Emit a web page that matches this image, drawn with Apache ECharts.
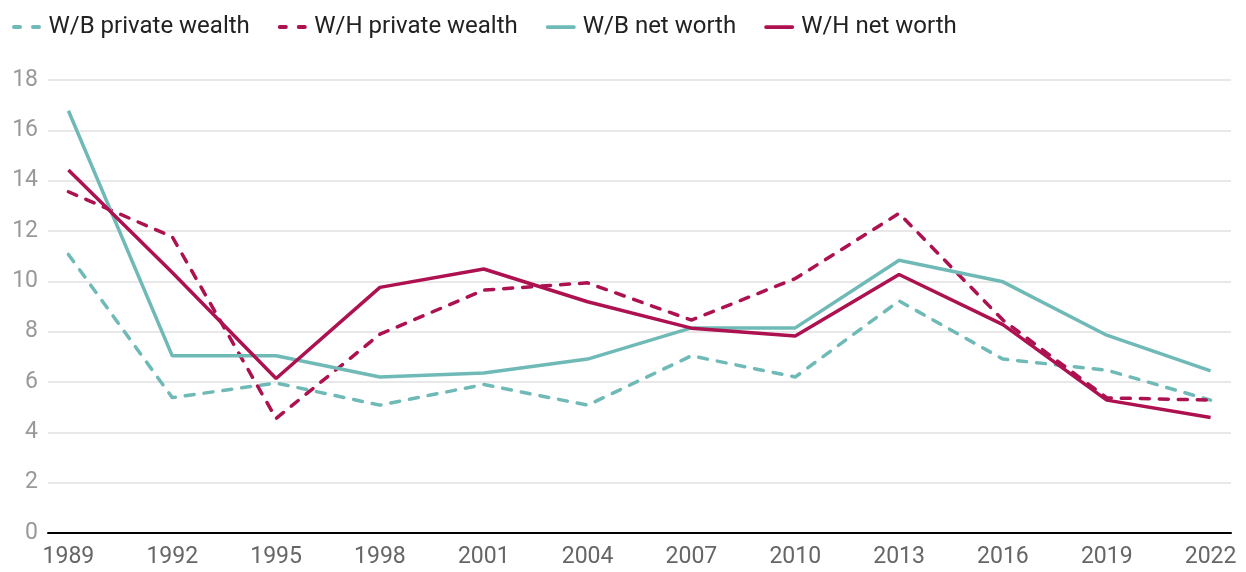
<!DOCTYPE html>
<html>
<head>
<meta charset="utf-8">
<script src="https://cdn.jsdelivr.net/npm/echarts@6/dist/echarts.min.js"></script>
<style>
  html, body { margin: 0; padding: 0; background: #fff; }
  #chart { width: 1246px; height: 572px; }
</style>
</head>
<body>
<div id="chart"></div>
<script>
// years on the x axis
const years = [1989, 1992, 1995, 1998, 2001, 2004, 2007, 2010, 2013, 2016, 2019, 2022]

// ratios
const wbPrivateWealth = [11.07, 5.38, 5.96, 5.08, 5.90, 5.08, 7.04, 6.20, 9.22, 6.91, 6.47, 5.28]
const whPrivateWealth = [13.56, 11.77, 4.55, 7.90, 9.65, 9.94, 8.46, 10.11, 12.70, 8.46, 5.37, 5.28]
const wbNetWorth = [16.78, 7.04, 7.04, 6.20, 6.36, 6.91, 8.15, 8.15, 10.84, 9.98, 7.86, 6.44]
const whNetWorth = [14.42, 10.35, 6.14, 9.76, 10.49, 9.19, 8.14, 7.83, 10.27, 8.28, 5.28, 4.59]

const teal = '#6fbab7'
const crimson = '#ad1150'

// legend icons: two short dashes or one bar
const dashIcon = 'path://M2,0 h6 a2,2 0 0 1 0,4 h-6 a2,2 0 0 1 0,-4 z M21,0 h6 a2,2 0 0 1 0,4 h-6 a2,2 0 0 1 0,-4 z'
const solidIcon = 'path://M2,0 h28 a2,2 0 0 1 0,4 h-28 a2,2 0 0 1 0,-4 z'

function pairs (vals) {
  return vals.map((v, i) => [years[i], v])
}

function lineSeries (name, vals, color, dashed) {
  return {
    name: name,
    type: 'line',
    data: pairs(vals),
    showSymbol: false,
    symbol: 'none',
    color: color,
    lineStyle: {
      color: color,
      width: 3.5,
      type: dashed ? [9, 10] : 'solid',
      cap: dashed ? 'round' : 'butt'
    }
  }
}

const chart = echarts.init(document.getElementById('chart'))
chart.setOption({
  animation: false,
  textStyle: { fontFamily: 'Roboto' },
  legend: {
    left: 7,
    top: 10,
    itemWidth: 30,
    itemHeight: 4,
    itemGap: 28,
    textStyle: { fontSize: 24, color: '#222', fontFamily: 'Roboto', padding: [0, 0, 0, 2] },
    data: [
      { name: 'W/B private wealth', icon: dashIcon },
      { name: 'W/H private wealth', icon: dashIcon },
      { name: 'W/B net worth', icon: solidIcon },
      { name: 'W/H net worth', icon: solidIcon }
    ]
  },
  grid: { left: 48, right: 15, top: 80, bottom: 39 },
  xAxis: {
    type: 'value',
    min: 1988.41,
    max: 2022.59,
    axisLine: { show: true, lineStyle: { color: '#000', width: 2 } },
    axisTick: { show: false },
    splitLine: { show: false },
    axisLabel: {
      customValues: years,
      fontSize: 23,
      color: '#666',
      margin: 13,
      formatter: v => String(v)
    }
  },
  yAxis: {
    type: 'value',
    min: 0,
    max: 18,
    interval: 2,
    axisLine: { show: false },
    axisTick: { show: false },
    axisLabel: { fontSize: 23, color: '#999', margin: 10 },
    splitLine: { lineStyle: { color: '#e0e0e0', width: 1.5 } }
  },
  series: [
    lineSeries('W/B private wealth', wbPrivateWealth, teal, true),
    lineSeries('W/H private wealth', whPrivateWealth, crimson, true),
    lineSeries('W/B net worth', wbNetWorth, teal, false),
    lineSeries('W/H net worth', whNetWorth, crimson, false)
  ]
})
</script>
</body>
</html>
